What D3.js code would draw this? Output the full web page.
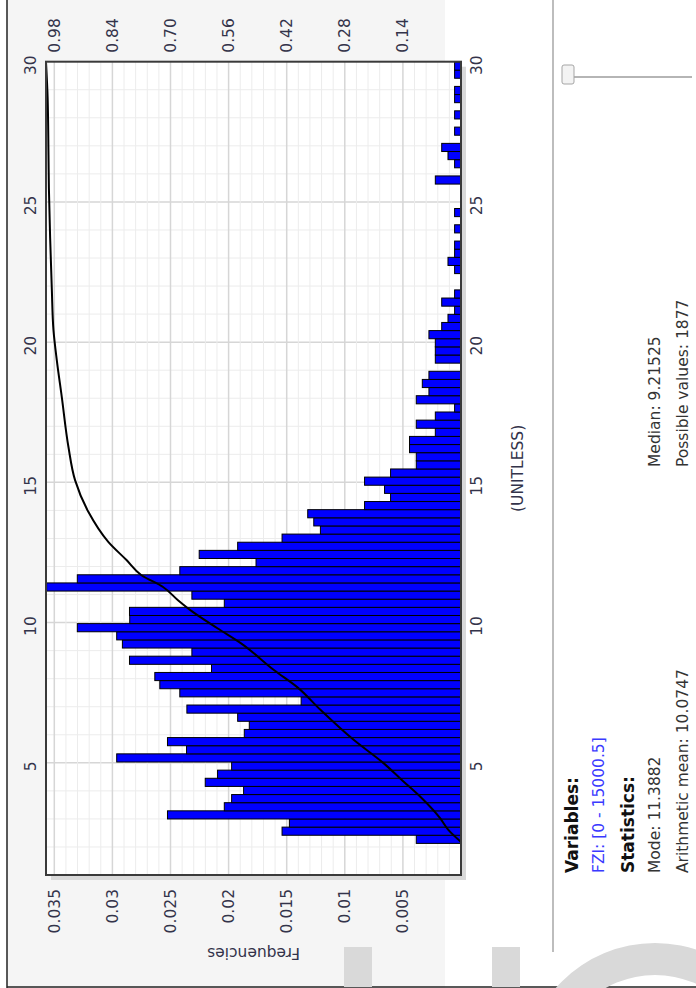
<!DOCTYPE html>
<html>
<head>
<meta charset="utf-8">
<script src="https://cdn.jsdelivr.net/npm/d3@7.9.0/dist/d3.min.js"></script>
<style>
  body { margin: 0; background: #fff; }
  svg { display: block; }
  text { font-family: "DejaVu Sans", sans-serif; }
</style>
</head>
<body>
<svg id="chart" width="696" height="988"></svg>
<script>
// histogram of FZI, bins run from binLo to binHi
const binLo = 2.127, binHi = 29.99;
const frequencies = [
  0.00385, 0.0154, 0.01477, 0.02526, 0.02037, 0.01974, 0.01871, 0.02201, 0.02095, 0.01974,
  0.02963, 0.02362, 0.02526, 0.01865, 0.01822, 0.01922, 0.02359, 0.01376, 0.0242, 0.02592,
  0.02635, 0.02147, 0.02853, 0.02316, 0.02914, 0.02963, 0.03302, 0.02851, 0.02853, 0.02037,
  0.02316, 0.03566, 0.03302, 0.0242, 0.01764, 0.02253, 0.01922, 0.0154, 0.0121, 0.01267,
  0.01319, 0.0083, 0.00606, 0.00658, 0.0083, 0.00606, 0.00385, 0.00385, 0.00443, 0.00443,
  0.00221, 0.00385, 0.00221, 0.00055, 0.00385, 0.00276, 0.00333, 0.00276, 0, 0.00221,
  0.00221, 0.00221, 0.00276, 0.00166, 0.00112, 0.00055, 0.00166, 0.00055, 0, 0,
  0.00055, 0.00112, 0.00055, 0.00055, 0, 0.00055, 0, 0.00055, 0, 0,
  0, 0.00221, 0, 0.00055, 0.00112, 0.00166, 0, 0.00055, 0, 0.00055,
  0, 0.00055, 0.00055, 0, 0.00055, 0.00055
];

// cumulative curve
const cdfValues = [2.18, 2.6, 3.02, 3.79, 4.38, 4.98, 5.81, 6.88, 7.69, 8.3, 9.26, 9.79, 10.4,
  10.8, 11.27, 11.69, 12.23, 12.88, 13.95, 15.08, 16.27, 18.05, 19.36, 20.43, 21.9, 23.7,
  25.48, 26.67, 28.69, 29.99];
const cdfShares = [0, 0.03, 0.05, 0.098, 0.142, 0.186, 0.258, 0.338, 0.394, 0.45, 0.53, 0.586, 0.648,
  0.682, 0.718, 0.77, 0.806, 0.85, 0.898, 0.93, 0.946, 0.962, 0.974, 0.982, 0.986, 0.99,
  0.993, 0.994, 0.996, 1];

const xTicks = [5, 10, 15, 20, 25, 30];
const freqTicks = [0.005, 0.01, 0.015, 0.02, 0.025, 0.03, 0.035];
const cumTicks = [0.14, 0.28, 0.42, 0.56, 0.70, 0.84, 0.98];

const statsLeft = ["Mode: 11.3882", "Arithmetic mean: 10.0747"];
const statsRight = ["Median: 9.21525", "Possible values: 1877"];

const svg = d3.select("#chart");

// page background: grey panel left, white right
svg.append("rect").attr("width", 696).attr("height", 988).attr("fill", "#fff");
svg.append("rect").attr("x", 7).attr("y", 0).attr("width", 438).attr("height", 988).attr("fill", "#f5f5f5");

// the screenshot is turned a quarter turn, so draw it upright and rotate
const W = 988;
const screen = svg.append("g").attr("transform", `translate(0,${W}) rotate(-90)`);

const x = d3.scaleLinear().domain([1, 30]).range([113, 926.3]);
const yF = d3.scaleLinear().domain([0, 1 / 28]).range([461, 46]);
const yC = d3.scaleLinear().domain([0, 1]).range([461, 46]);

const [px0, px1] = x.range();
const [py1, py0] = yF.range();

// shadow + plot background
screen.append("rect")
  .attr("x", px0 - 5).attr("y", py0 + 5)
  .attr("width", px1 - px0).attr("height", py1 - py0)
  .attr("fill", "#d9d9d9");
screen.append("rect")
  .attr("x", px0).attr("y", py0)
  .attr("width", px1 - px0).attr("height", py1 - py0)
  .attr("fill", "#fff");

// grid
const grid = screen.append("g");
const minorX = d3.range(2, 30);
grid.selectAll(".gx").data(minorX).join("line")
  .attr("x1", d => x(d)).attr("x2", d => x(d))
  .attr("y1", py0).attr("y2", py1)
  .attr("stroke", d => d % 5 === 0 ? "#d6d6d6" : "#ececec")
  .attr("stroke-width", d => d % 5 === 0 ? 1.5 : 1);
const minorY = d3.range(1, 36).map(k => k / 1000);
grid.selectAll(".gy").data(minorY).join("line")
  .attr("x1", px0).attr("x2", px1)
  .attr("y1", d => yF(d)).attr("y2", d => yF(d))
  .attr("stroke", (d, i) => (i + 1) % 5 === 0 ? "#d6d6d6" : "#ececec")
  .attr("stroke-width", (d, i) => (i + 1) % 5 === 0 ? 1.5 : 1);

// bars
const bw = (binHi - binLo) / frequencies.length;
screen.append("g").selectAll("rect").data(frequencies).join("rect")
  .attr("x", (d, i) => x(binLo + i * bw))
  .attr("width", x(binLo + bw) - x(binLo))
  .attr("y", d => yF(d))
  .attr("height", d => yF(0) - yF(d))
  .attr("fill", "#0000ff")
  .attr("stroke", "#000")
  .attr("stroke-width", 1)
  .attr("display", d => d > 0 ? null : "none");

// cumulative line
const line = d3.line()
  .x((d, i) => x(cdfValues[i]))
  .y(d => yC(d))
  .curve(d3.curveMonotoneX);
screen.append("path")
  .attr("d", line(cdfShares))
  .attr("fill", "none")
  .attr("stroke", "#000")
  .attr("stroke-width", 2);

// frame
screen.append("rect")
  .attr("x", px0).attr("y", py0)
  .attr("width", px1 - px0).attr("height", py1 - py0)
  .attr("fill", "none").attr("stroke", "#3a3a3a").attr("stroke-width", 2);

// axes
function styleAxis(g) {
  g.select(".domain").remove();
  g.selectAll("line").remove();
  g.selectAll("text").attr("font-size", 15.5).attr("fill", "#33334a")
    .attr("font-family", "DejaVu Sans, sans-serif");
}
screen.append("g").attr("transform", `translate(${px0},0)`)
  .call(d3.axisLeft(yF).tickValues(freqTicks).tickFormat(String).tickSize(0).tickPadding(14))
  .call(styleAxis);
screen.append("g").attr("transform", `translate(${px1},0)`)
  .call(d3.axisRight(yC).tickValues(cumTicks).tickFormat(d3.format(".2f")).tickSize(0).tickPadding(9))
  .call(styleAxis);
screen.append("g").attr("transform", `translate(-4,${py1})`)
  .call(d3.axisBottom(x).tickValues(xTicks).tickSize(0).tickPadding(10))
  .call(styleAxis);
screen.append("g").attr("transform", `translate(-4,${py0})`)
  .call(d3.axisTop(x).tickValues(xTicks).tickSize(0).tickPadding(10))
  .call(styleAxis);

screen.append("text")
  .attr("x", (px0 + px1) / 2).attr("y", 523)
  .attr("text-anchor", "middle")
  .attr("font-size", 15.5).attr("fill", "#33334a")
  .text("(UNITLESS)");
screen.append("text")
  .attr("transform", `translate(40,${(py0 + py1) / 2}) rotate(-90)`)
  .attr("text-anchor", "middle")
  .attr("font-size", 15.5).attr("fill", "#33334a")
  .text("Frequencies");

// side panel
screen.append("line")
  .attr("x1", 36).attr("x2", W).attr("y1", 553).attr("y2", 553)
  .attr("stroke", "#bdbdbd").attr("stroke-width", 2);
screen.append("line")
  .attr("x1", 911).attr("x2", 911).attr("y1", 574).attr("y2", 692)
  .attr("stroke", "#b5b5b5").attr("stroke-width", 2);
screen.append("rect")
  .attr("x", 904).attr("y", 562).attr("width", 19).attr("height", 12).attr("rx", 2)
  .attr("fill", "#f3f3f3").attr("stroke", "#a5a5a5");

const panel = screen.append("g").attr("font-size", 15.5).attr("fill", "#333");
panel.append("text").attr("x", 115).attr("y", 578).attr("font-weight", "bold")
  .attr("font-size", 17).attr("fill", "#111").text("Variables:");
panel.append("text").attr("x", 115).attr("y", 604).attr("fill", "#3a3aff")
  .text("FZI: [0 - 15000.5]");
panel.append("text").attr("x", 115).attr("y", 634).attr("font-weight", "bold")
  .attr("font-size", 17).attr("fill", "#111").text("Statistics:");
panel.selectAll(".sl").data(statsLeft).join("text")
  .attr("x", 115).attr("y", (d, i) => 660 + i * 28).text(d => d);
panel.selectAll(".sr").data(statsRight).join("text")
  .attr("x", 521).attr("y", (d, i) => 660 + i * 28).text(d => d);

// outer frame of the screenshot
svg.append("line").attr("x1", 7).attr("x2", 7).attr("y1", 0).attr("y2", 988)
  .attr("stroke", "#222").attr("stroke-width", 1.5);
svg.append("line").attr("x1", 7).attr("x2", 696).attr("y1", 987).attr("y2", 987)
  .attr("stroke", "#222").attr("stroke-width", 1.5);

// watermark fragments along the bottom edge
const wm = svg.append("g").attr("fill", "#d9d9d9");
wm.append("rect").attr("x", 344).attr("y", 947).attr("width", 28).attr("height", 40);
wm.append("rect").attr("x", 492).attr("y", 947).attr("width", 28).attr("height", 40);
wm.append("path")
  .attr("d", d3.arc().innerRadius(100).outerRadius(132).startAngle(-Math.PI / 2).endAngle(Math.PI / 2)())
  .attr("transform", "translate(655,1075)");
</script>
</body>
</html>
